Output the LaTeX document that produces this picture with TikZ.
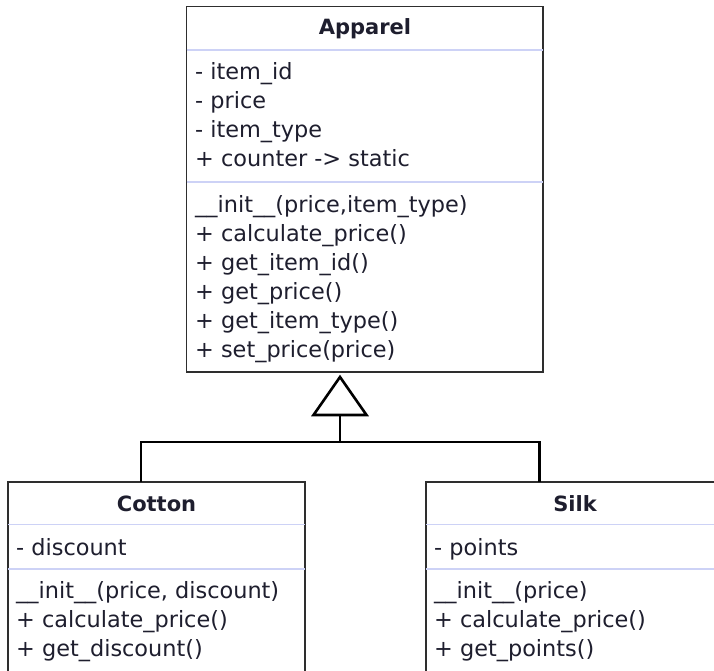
\documentclass[tikz,border=0pt]{standalone}
\usepackage{fontspec}
\setmainfont{DejaVu Sans}
\definecolor{boxgray}{HTML}{2E2E2E}
\definecolor{sepcol}{HTML}{CDD2F6}
\definecolor{txtcol}{HTML}{1E1E2E}
\begin{document}
\begin{tikzpicture}[x=1pt,y=-1pt,
  box/.style={draw=boxgray,line width=1.7pt,fill=white,inner sep=0pt,outer sep=0pt,anchor=north west},
  sep/.style={draw=sepcol,line width=1.7pt},
  txt/.style={anchor=base west,inner sep=0pt,text=txtcol,font=\fontsize{22.4}{26}\selectfont},
  ttl/.style={anchor=base,inner sep=0pt,text=txtcol,font=\fontsize{21}{26}\selectfont\bfseries},
  conn/.style={draw=black,line width=2.6pt}]
\useasboundingbox (0,0) rectangle (714,671);
\clip (0,0) rectangle (714,671);
\fill[white] (0,0) rectangle (714,671);

% class boxes
\node[box,minimum width=356.5pt,minimum height=365.5pt] (apparel) at (186.5,6.5) {};
\node[box,minimum width=297pt,minimum height=220pt] (cotton) at (8,482) {};
\node[box,minimum width=298pt,minimum height=220pt] (silk) at (426,482) {};

% compartment separators
\draw[sep] (apparel.west |- 0,50) -- (apparel.east |- 0,50);
\draw[sep] (apparel.west |- 0,182) -- (apparel.east |- 0,182);
\draw[sep] (cotton.west |- 0,524.5) -- (cotton.east |- 0,524.5);
\draw[sep] (cotton.west |- 0,569) -- (cotton.east |- 0,569);
\draw[sep] (silk.west |- 0,524.5) -- (silk.east |- 0,524.5);
\draw[sep] (silk.west |- 0,569) -- (silk.east |- 0,569);

% titles
\node[ttl] (apt) at (365,35) {Apparel};
\node[ttl] (cot) at (156.5,511) {Cotton};
\node[ttl] (sit) at (575,511) {Silk};

% Apparel members
\node[txt] (ap1) at (195,80) {- item\_id};
\node[txt] (ap2) at (195,109) {- price};
\node[txt] (ap3) at (195,138) {- item\_type};
\node[txt] (ap4) at (195,167) {+ counter -> static};
\node[txt] (ap5) at (195,212) {\_\_init\_\_(price,item\_type)};
\node[txt] (ap6) at (195,241) {+ calculate\_price()};
\node[txt] (ap7) at (195,270) {+ get\_item\_id()};
\node[txt] (ap8) at (195,299) {+ get\_price()};
\node[txt] (ap9) at (195,328) {+ get\_item\_type()};
\node[txt] (ap10) at (195,357) {+ set\_price(price)};

% Cotton members
\node[txt] (co1) at (16,555) {- discount};
\node[txt] (co2) at (16,598) {\_\_init\_\_(price, discount)};
\node[txt] (co3) at (16,627) {+ calculate\_price()};
\node[txt] (co4) at (16,656) {+ get\_discount()};

% Silk members
\node[txt] (si1) at (434,555) {- points};
\node[txt] (si2) at (434,598) {\_\_init\_\_(price)};
\node[txt] (si3) at (434,627) {+ calculate\_price()};
\node[txt] (si4) at (434,656) {+ get\_points()};

% inheritance connector
\coordinate (jl) at (141,442);
\coordinate (jr) at (539.5,442);
\coordinate (jc) at (340,442);
\coordinate (tb) at (340,415);
\draw[conn] (cotton.north -| jl) -- (jl) -- (jr) -- (silk.north -| jr);
\draw[conn] (jc) -- (tb);
\draw[conn,fill=white] (340,377) -- (313.5,415) -- (366.5,415) -- cycle;
\end{tikzpicture}
\end{document}
